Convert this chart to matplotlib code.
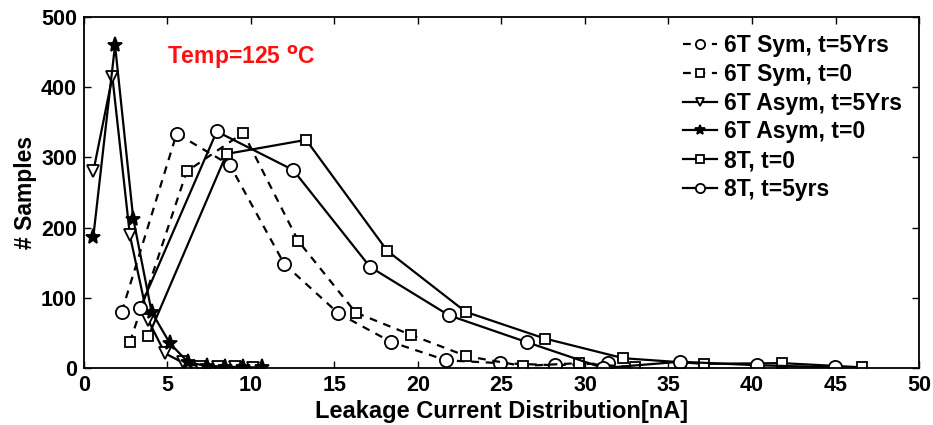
import matplotlib
matplotlib.use("Agg")
import matplotlib.pyplot as plt

plt.rcParams['font.family'] = ['Liberation Sans', 'DejaVu Sans']
plt.rcParams['font.weight'] = 'bold'
plt.rcParams['mathtext.default'] = 'bf'

# 6T Sym, t=5Yrs (dashed, circles)
sym5_x = [2.26, 5.55, 8.74, 12.0, 15.23, 18.4, 21.7, 24.9, 28.2, 31.4]
sym5_y = [80, 334, 289, 148, 78, 37, 11, 7, 4, 7]
# 6T Sym, t=0 (dashed, squares)
sym0_x = [2.75, 6.15, 9.54, 12.83, 16.27, 19.6, 22.9, 26.27, 29.66, 33.0]
sym0_y = [37, 280, 335, 181, 79, 47, 17, 3, 7, 1]
# 6T Asym, t=5Yrs (solid, triangles)
asym5_x = [0.56, 1.70, 2.75, 3.85, 4.85, 5.9, 6.95, 8.0, 9.05, 10.1]
asym5_y = [280, 415, 189, 68, 21, 8, 2, 1, 1, 0]
# 6T Asym, t=0 (solid, stars)
asym0_x = [0.56, 1.86, 2.95, 4.05, 5.15, 6.25, 7.35, 8.45, 9.55, 10.65]
asym0_y = [187, 460, 213, 80, 35, 8, 3, 2, 1, 1]
# 8T, t=0 (solid, squares)
t80_x = [3.85, 8.54, 13.3, 18.16, 22.86, 27.6, 32.3, 37.1, 41.8, 46.6]
t80_y = [45, 305, 325, 167, 80, 42, 14, 6, 7, 1]
# 8T, t=5yrs (solid, circles)
t85_x = [3.35, 7.95, 12.53, 17.13, 21.86, 26.5, 31.1, 35.7, 40.3, 44.97]
t85_y = [85, 337, 282, 144, 75, 37, 0, 9, 4, 1]

labels = ['6T Sym, t=5Yrs', '6T Sym, t=0', '6T Asym, t=5Yrs',
          '6T Asym, t=0', '8T, t=0', '8T, t=5yrs']
xticks = [0, 5, 10, 15, 20, 25, 30, 35, 40, 45, 50]
yticks = [0, 100, 200, 300, 400, 500]

fig = plt.figure(figsize=(9.33, 4.25), dpi=100)
ax = fig.add_axes([0.090, 0.134, 0.895, 0.826])

lw = 1.6
common = dict(color='black', lw=lw, mec='black', mew=1.3)
dash = (0, (3.5, 3))
ax.plot(sym5_x, sym5_y, ls=dash, marker='o', ms=9.5, mfc='white', label=labels[0], **common)
ax.plot(sym0_x, sym0_y, ls=dash, marker='s', ms=7.5, mfc='white', label=labels[1], **common)
ax.plot(asym5_x, asym5_y, ls='-', marker='v', ms=9, mfc='white', label=labels[2], **common)
ax.plot(asym0_x, asym0_y, ls='-', marker='*', ms=11, mfc='black', label=labels[3], **common)
ax.plot(t80_x, t80_y, ls='-', marker='s', ms=7.5, mfc='white', label=labels[4], **common)
ax.plot(t85_x, t85_y, ls='-', marker='o', ms=9.5, mfc='white', label=labels[5], **common)

ax.set_xlim(0, 50)
ax.set_ylim(0, 500)
ax.set_xticks(xticks)
ax.set_yticks(yticks)
ax.tick_params(direction='in', top=True, right=True, length=5, width=1, labelsize=15.5, pad=5)
for s in ax.spines.values():
    s.set_linewidth(1.3)

ax.set_xlabel('Leakage Current Distribution[nA]', fontsize=17, fontweight='bold', labelpad=3)
ax.set_ylabel('# Samples', fontsize=16.5, fontweight='bold', labelpad=3)

ax.text(5.0, 443, 'Temp=125 $^{o}$C', color='#ff1010', fontsize=16.5,
        fontweight='bold', ha='left', va='center')

leg = ax.legend(loc='upper right', frameon=False, fontsize=16.5, handlelength=1.5,
                handletextpad=0.3, labelspacing=0.25, markerscale=0.7,
                borderaxespad=0.2, borderpad=0.55)

fig.savefig('out.png', dpi=100)
